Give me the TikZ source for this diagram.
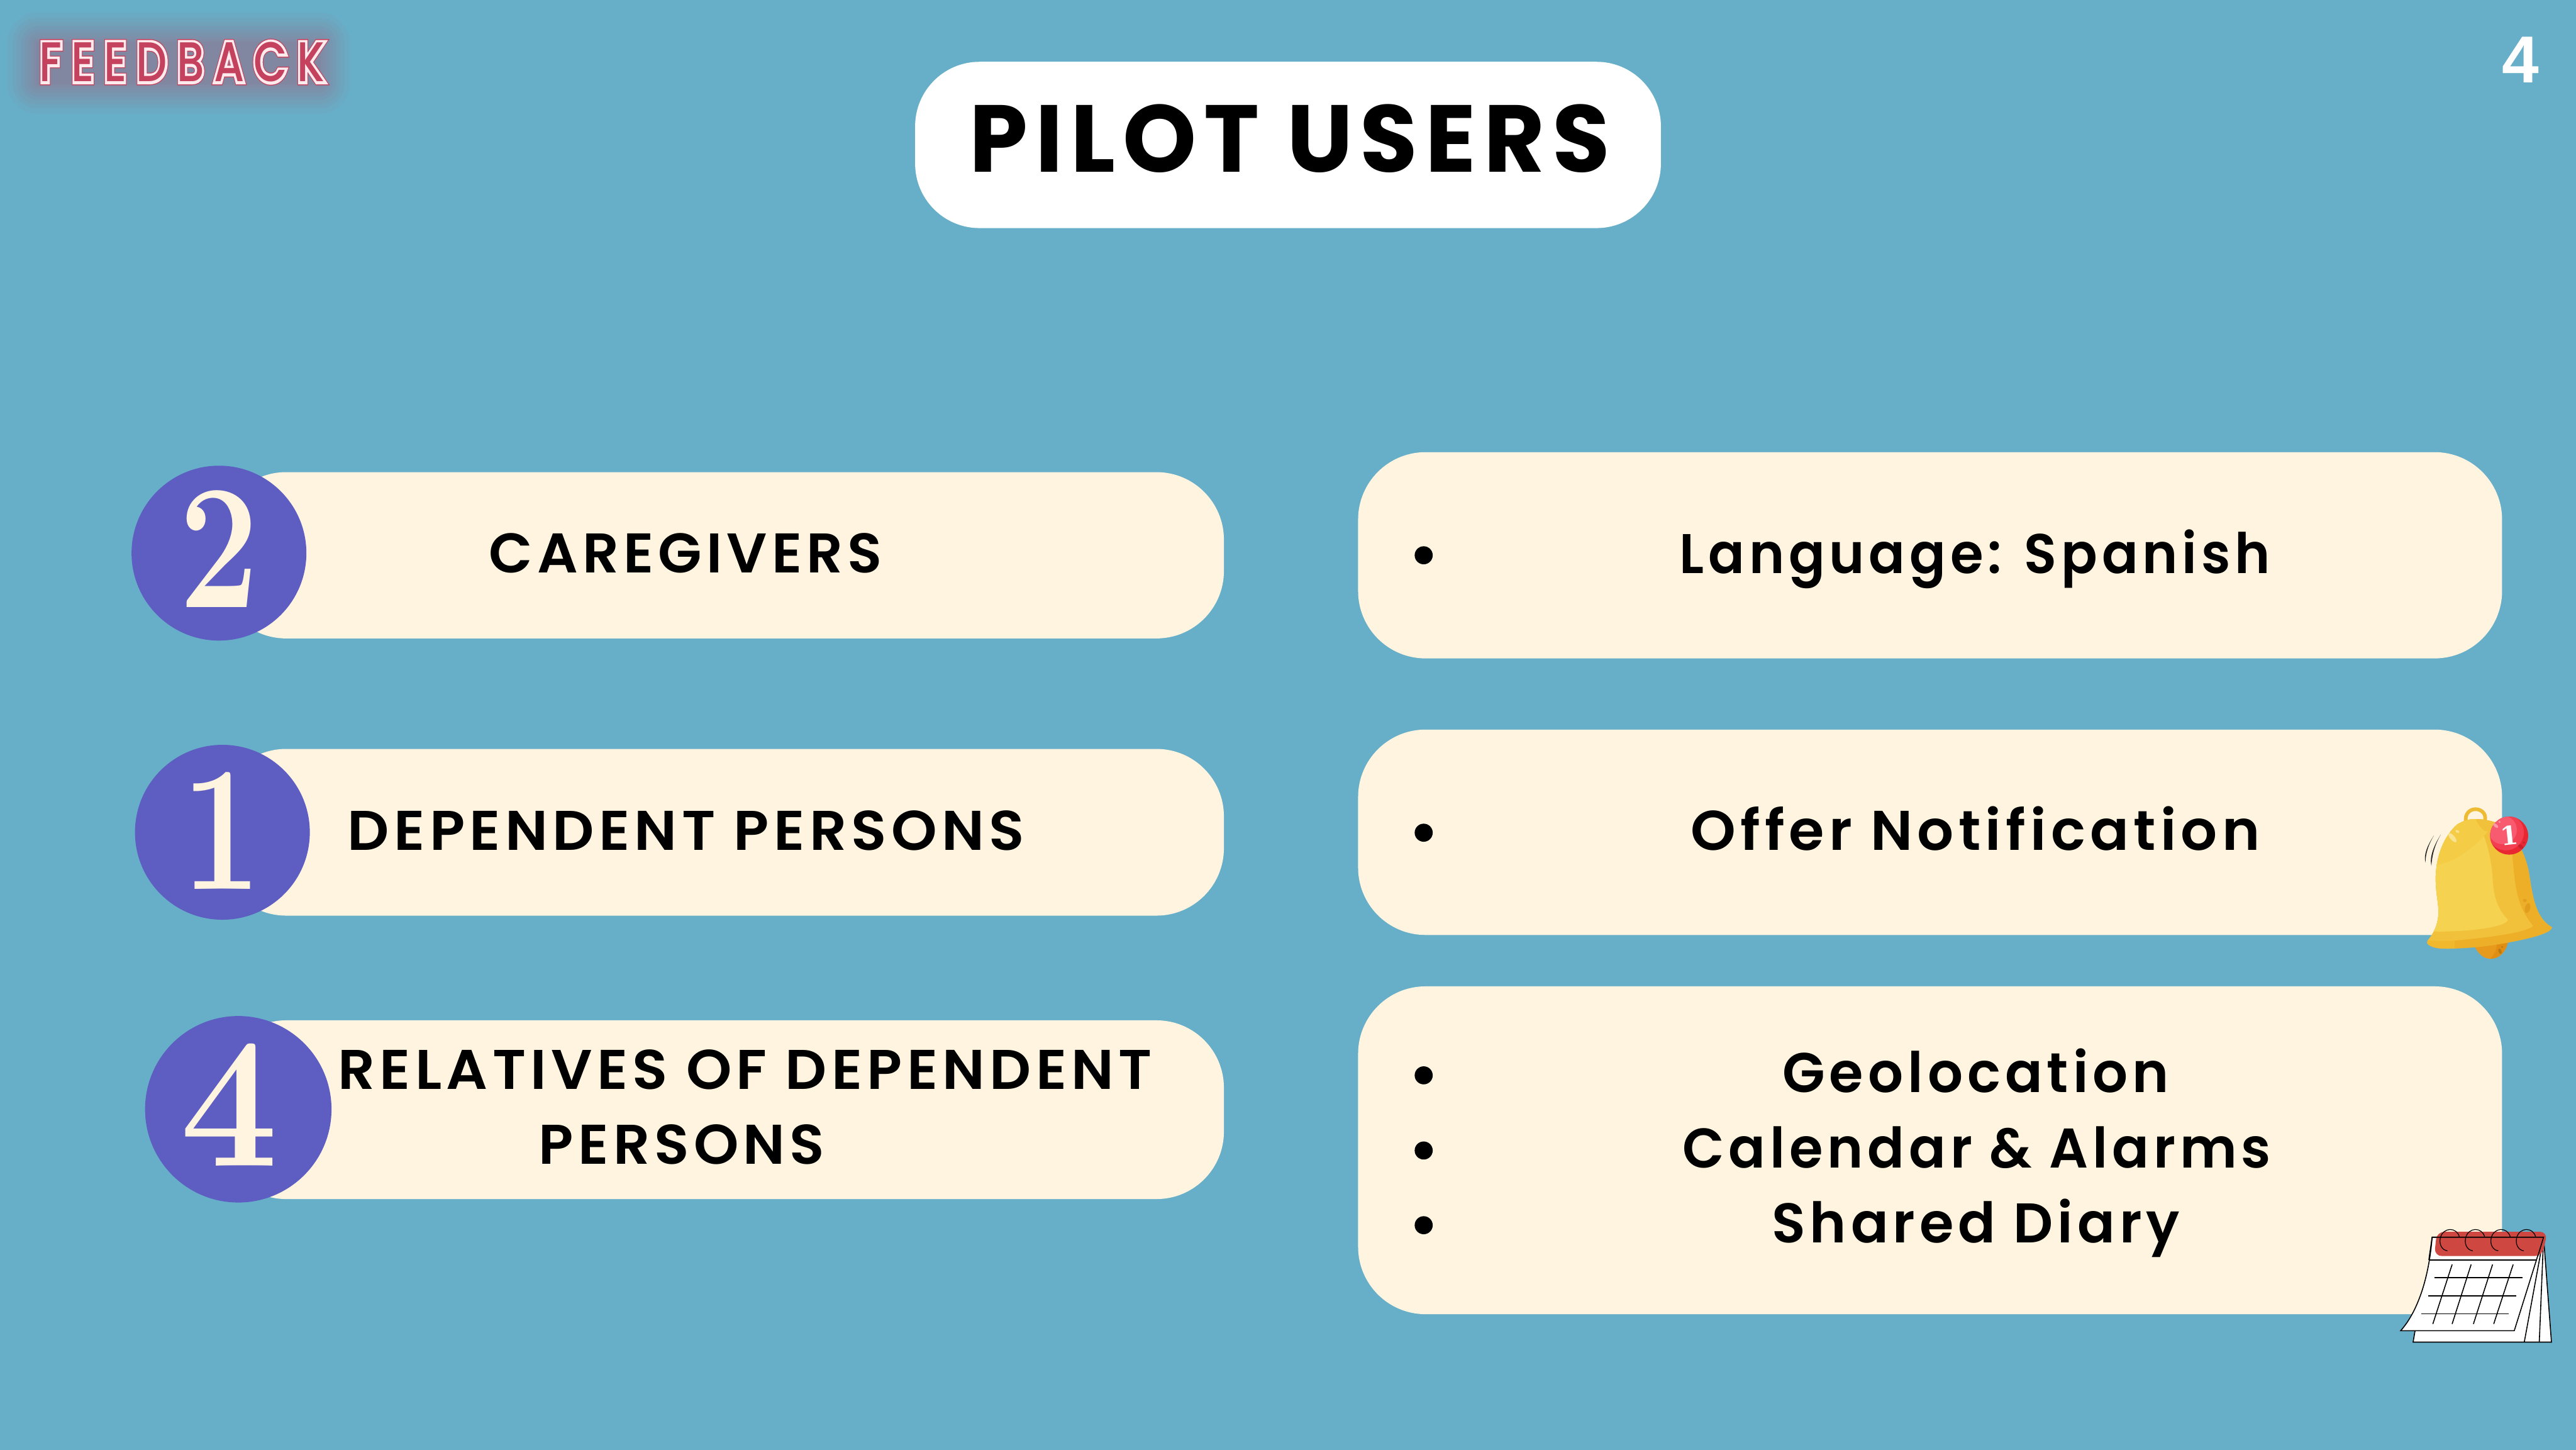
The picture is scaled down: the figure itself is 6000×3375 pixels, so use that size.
\documentclass[tikz,border=0pt]{standalone}
\usepackage{fontspec}
\usepackage{graphicx}
\newfontfamily\popb{Poppins}[UprightFont=* SemiBold,LetterSpace=8]
\newfontfamily\popt{Poppins}[UprightFont=* Bold,LetterSpace=8]
\newfontfamily\fbpink{Poppins}[UprightFont=* Medium,FakeBold=10,LetterSpace=22]
\newfontfamily\fbred{Poppins}[UprightFont=* Medium,LetterSpace=22]
\newfontfamily\fbhalo{Poppins}[UprightFont=* Medium,FakeBold=13,LetterSpace=22]
\newfontfamily\pagef{Liberation Sans}
\newfontfamily\digitf{Latin Modern Roman}
\newfontfamily\badgef{DejaVu Serif}
\definecolor{bgblue}{HTML}{67AFC8}
\definecolor{cream}{HTML}{FFF4E0}
\definecolor{purp}{HTML}{5E5EC2}
\definecolor{pinkl}{HTML}{FFEBEE}
\definecolor{redl}{HTML}{C4425E}
\definecolor{bellA}{HTML}{ECAF27}
\definecolor{bellB}{HTML}{F2C13B}
\definecolor{bellC}{HTML}{F5D24F}
\definecolor{bellD}{HTML}{F4CC46}
\definecolor{bellE}{HTML}{F0B82D}
\definecolor{bellR}{HTML}{EEBB35}
\definecolor{clapA}{HTML}{E89A1C}
\definecolor{clapB}{HTML}{E08E14}
\definecolor{spot}{HTML}{E09D1E}
\definecolor{hilite}{HTML}{F9E390}
\definecolor{badA}{HTML}{E92733}
\definecolor{badB}{HTML}{F24052}
\definecolor{badC}{HTML}{F85A70}
\definecolor{badS}{HTML}{C91F2B}
\definecolor{badH}{HTML}{FB99A8}
\definecolor{calred}{HTML}{CE4741}
\newcommand\fitw[2]{\setbox0=\hbox{#2}\pgfmathsetmacro\fitr{#1*0.284527/\the\wd0}\scalebox{\fitr}[1]{\box0}}
\tikzset{
  pill/.style={rectangle,fill=cream,rounded corners=1.57cm,inner sep=0pt},
  numdisc/.style={circle,fill=purp,inner sep=0pt},
  dot/.style={circle,fill=black,inner sep=0pt,minimum size=0.42cm},
  lab/.style={anchor=base,inner sep=0pt,text=black,font={\popb\fontsize{37}{37}\selectfont}},
  num/.style={anchor=base,inner sep=0pt,text=cream},
  cal/.style={draw=black,line width=0.66pt,line join=miter},
  calthin/.style={draw=black,line width=0.5pt},
  fb/.style={anchor=base,inner sep=0pt}
}
\begin{document}
\begin{tikzpicture}[x=0.01cm,y=-0.01cm]
\useasboundingbox (0,0) rectangle (6000,3375);
\fill[bgblue] (-10,-10) rectangle (6010,3385);

% glow behind FEEDBACK
\foreach \d in {72,60,50,40,32,24,16,10,4}{
  \fill[redl,opacity=0.045,rounded corners=\d*0.01cm] (89-\d,101-\d) rectangle (743+\d,193+\d);
}
\node[fb,text=redl] (fb0) at (424,190) {\fitw{664}{\fbhalo\fontsize{37}{37}\selectfont FEEDBACK}};
\node[fb,text=pinkl] (fb1) at (424,190) {\fitw{664}{\fbpink\fontsize{37}{37}\selectfont FEEDBACK}};
\node[fb,text=redl] (fb2) at (424,190) {\fitw{664}{\fbred\fontsize{37}{37}\selectfont FEEDBACK}};

% page number
\node[anchor=base,inner sep=0pt,text=white,font={\pagef\bfseries\fontsize{44}{44}\selectfont}] (page) at (5871,192) {4};

% title
\node[pill,fill=white,rounded corners=1.5cm,minimum width=17.36cm,minimum height=3.87cm] (titlebox) at (3000,337.5) {};
\node[anchor=base,inner sep=0pt,text=black] (title) at (3004,401) {\fitw{1490}{\popt\fontsize{63}{63}\selectfont PILOT USERS}};

% left pills
\node[pill,minimum width=23.4cm,minimum height=3.87cm] (p2) at (1680,1293) {};
\node[pill,minimum width=23.4cm,minimum height=3.88cm] (p1) at (1680,1938) {};
\node[pill,minimum width=23.4cm,minimum height=4.16cm] (p4) at (1680,2584) {};
\node[numdisc,minimum size=4.07cm] (c2) at (510,1288) {};
\node[numdisc,minimum size=4.07cm] (c1) at (518,1938) {};
\node[numdisc,minimum size=4.34cm] (c4) at (555,2583) {};
\node[num] (n2) at (510,1414) {\scalebox{0.8}[1]{\digitf\bfseries\fontsize{118}{118}\selectfont 2}};
\node[num] (n1) at (516,2070) {\scalebox{0.8}[1]{\digitf\bfseries\fontsize{118}{118}\selectfont 1}};
\node[num] (n4) at (534,2715) {\scalebox{0.94}[1]{\digitf\bfseries\fontsize{123}{123}\selectfont 4}};

\node[lab] (t1) at (1597,1334) {\fitw{915}{CAREGIVERS}};
\node[lab] (t2) at (1598,1979) {\fitw{1575}{DEPENDENT PERSONS}};
\node[lab] (t3a) at (1735,2536) {\fitw{1895}{RELATIVES OF DEPENDENT}};
\node[lab] (t3b) at (1588,2710) {\fitw{665}{PERSONS}};

% right pills
\node[pill,minimum width=26.63cm,minimum height=4.8cm] (r1) at (4495.5,1293) {};
\node[pill,minimum width=26.63cm,minimum height=4.78cm] (r2) at (4495.5,1938) {};
\node[pill,minimum width=26.63cm,minimum height=7.63cm] (r3) at (4495.5,2678.5) {};
\node[dot] (d1) at (3316,1293) {};
\node[dot] (d2) at (3316,1939) {};
\node[dot] (d3) at (3316,2504) {};
\node[dot] (d4) at (3316,2679) {};
\node[dot] (d5) at (3316,2853) {};
\node[lab] (u1) at (4600,1335) {\fitw{1375}{Language: Spanish}};
\node[lab] (u2) at (4601,1979) {\fitw{1325}{Offer Notification}};
\node[lab] (u3) at (4602,2544) {\fitw{900}{Geolocation}};
\node[lab] (u4) at (4604,2719) {\fitw{1370}{Calendar \& Alarms}};
\node[lab] (u5) at (4602,2894) {\fitw{950}{Shared Diary}};

% bell
\begin{scope}[shift={(5550,1820)},x=0.0033333cm,y=-0.0033333cm]
  \fill[clapA] (640,1150) .. controls (670,1210) and (710,1240) .. (755,1240) .. controls (815,1240) and (865,1190) .. (875,1120) -- cycle;
  \fill[clapB] (800,1135) .. controls (795,1180) and (775,1220) .. (750,1240) .. controls (815,1240) and (865,1190) .. (875,1120) -- cycle;
  \draw[bellR,line width=2.4pt] (582,285) .. controls (570,225) and (610,193) .. (648,193) .. controls (690,193) and (725,225) .. (715,270);
  \def\bellbody{(648,262) .. controls (720,262) and (790,280) .. (840,310) .. controls (920,370) and (990,480) .. (1020,620) .. controls (1040,730) and (1050,860) .. (1110,950) .. controls (1130,980) and (1160,1005) .. (1185,1020) .. controls (1180,1060) and (1040,1100) .. (800,1140) .. controls (650,1165) and (450,1175) .. (380,1165) .. controls (330,1155) and (300,1135) .. (312,1115) .. controls (350,1070) and (385,1010) .. (390,920) .. controls (390,850) and (370,780) .. (370,680) .. controls (370,520) and (430,380) .. (520,300) .. controls (570,270) and (610,262) .. (648,262) -- cycle}
  \fill[bellA] \bellbody;
  \begin{scope}
    \clip \bellbody;
    \fill[bellE] (290,1090) rectangle (503,1190);
    \fill[bellB] (280,220) -- (890,220) -- (905,510) .. controls (925,700) and (925,860) .. (1052,1010) .. controls (1000,1060) and (700,1095) .. (500,1112) .. controls (420,1118) and (360,1112) .. (300,1112) -- cycle;
    \fill[bellC] (280,220) -- (640,220) -- (655,280) .. controls (720,380) and (760,520) .. (770,700) .. controls (780,850) and (830,920) .. (875,965) .. controls (870,1010) and (680,1040) .. (490,1047) .. controls (420,1050) and (380,1050) .. (280,1045) -- cycle;
    \fill[bellD] (280,220) -- (640,220) -- (655,280) .. controls (690,330) and (705,350) .. (735,350) .. controls (620,480) and (500,560) .. (385,582) -- (280,600) -- cycle;
  \end{scope}
  \fill[hilite,rotate around={-50:(487,392)}] (487,392) ellipse [x radius=40,y radius=16];
  \fill[hilite,rotate around={-20:(522,349)}] (522,349) ellipse [x radius=14,y radius=9];
  \fill[spot,rotate around={-15:(1013,885)}] (1013,885) ellipse [x radius=18,y radius=35];
  \fill[spot] (994,832) ellipse [x radius=13,y radius=11];
  \fill[clapB!85!black,rotate around={20:(820,1187)}] (820,1187) ellipse [x radius=11,y radius=20];
  \fill[clapB!85!black] (835,1157) circle [radius=7];
  \fill[black!85] (358,376) .. controls (310,450) and (285,510) .. (298,567) .. controls (300,500) and (320,440) .. (358,376) -- cycle;
  \fill[black!85] (406,370) .. controls (355,450) and (325,530) .. (340,590) .. controls (345,510) and (365,440) .. (406,370) -- cycle;
  \fill[badA] (884,378) circle [radius=133];
  \begin{scope}
    \clip (884,378) circle [radius=133];
    \fill[badB] (862,356) circle [radius=125];
    \fill[badC] (838,338) circle [radius=100];
  \end{scope}
  \fill[badH,rotate around={-40:(790,308)}] (790,308) ellipse [x radius=22,y radius=11];
  \fill[badH] (817,282) circle [radius=8];
  \fill[badS,rotate around={-35:(965,455)}] (965,455) ellipse [x radius=20,y radius=13];
  \fill[badS] (988,427) circle [radius=8];
  \node[inner sep=0pt,text=white,rotate=6] (bell1) at (884,375) {\badgef\bfseries\fontsize{17}{17}\selectfont 1};
\end{scope}

% calendar
\begin{scope}[shift={(5550,2820)},x=0.0033333cm,y=-0.0033333cm]
  \path[cal,fill=white] (225,840) -- (212,917) -- (1180,917) -- (1125,183) -- cycle;
  \draw[cal] (1125,183) -- (1095,917);
  \draw[cal] (1125,183) -- (990,917);
  \path[cal,fill=white] (345,183) -- (1125,183) -- (920,837) -- (125,837) .. controls (230,720) and (320,500) .. (345,183) -- cycle;
  \fill[calred,rounded corners=5pt] (378,145) -- (1152,145) -- (1115,315) -- (360,315) -- cycle;
  \draw[cal] (345,183) -- (1125,183) -- (1085,315);
  \draw[cal] (345,183) -- (322,342);
  \draw[cal] (322,342) -- (1080,342);
  \foreach \yy/\xa/\xb in {467/363/978,594/318/933,719/269/883}{
    \draw[cal] (\xa,\yy) -- (\xb,\yy);
  }
  \foreach \xa/\xb in {485/350,618/485,768/634,912/776}{
    \draw[cal] (\xa,374) -- (\xb,790);
  }
  \foreach \dx in {0,177,356,534}{
    \begin{scope}[xshift=\dx*0.0033333cm]
      \draw[calthin] (536,183) .. controls (520,110) and (420,110) .. (402,190) .. controls (392,240) and (420,275) .. (452,278);
    \end{scope}
  }
\end{scope}
\end{tikzpicture}
\end{document}
